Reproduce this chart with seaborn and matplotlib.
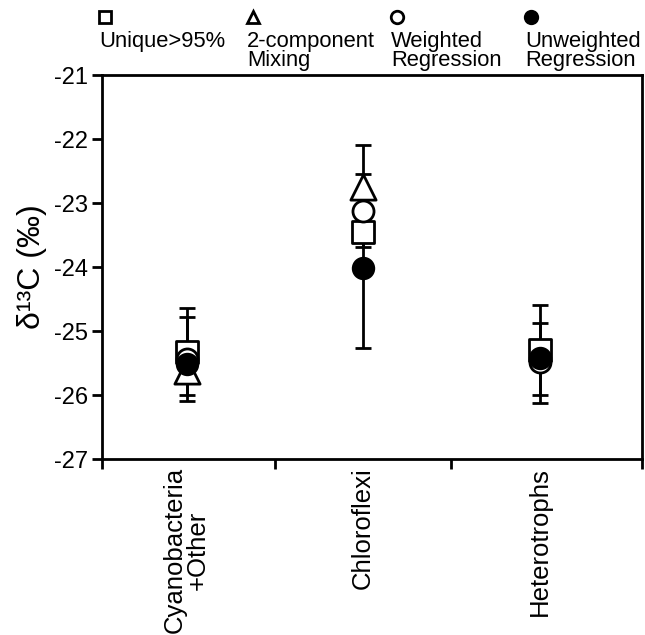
import numpy as np
import pandas as pd
import matplotlib
matplotlib.use("Agg")
import matplotlib.pyplot as plt
import seaborn as sns
from matplotlib.lines import Line2D

# categories (x) and the four estimation methods
groups = ['Cyanobacteria\n+Other', 'Chloroflexi', 'Heterotrophs']
methods = ['Unique>95%', '2-component\nMixing', 'Weighted\nRegression', 'Unweighted\nRegression']

# d13C values
unique95 = [-25.33, -23.45, -25.30]
mixing = [-25.63, -22.75, np.nan]
weighted = [-25.44, -23.13, -25.48]
unweighted = [-25.52, -24.02, -25.42]

# error bars (lower, upper) - only the visible ones
unique95_lo = [0.67, 0.0, 0.70]
unique95_hi = [0.69, 0.0, 0.71]
weighted_lo = [0.66, 0.56, 0.64]
weighted_hi = [0.66, 0.58, 0.60]
unweighted_lo = [0.0, 1.25, 0.0]
unweighted_hi = [0.0, 1.92, 0.0]

sns.set_theme(style="ticks")
plt.rcParams['font.family'] = ['Liberation Sans', 'DejaVu Sans']
for k in ['text.color', 'axes.labelcolor', 'xtick.color', 'ytick.color']:
    plt.rcParams[k] = 'black'

fig = plt.figure(figsize=(6.45, 6.35), dpi=100)
ax = fig.add_axes([102 / 645, 1 - 459 / 635, 540 / 645, 384 / 635])

x = np.arange(len(groups))

# error bars behind markers
for vals, lo, hi in [(unique95, unique95_lo, unique95_hi),
                     (weighted, weighted_lo, weighted_hi),
                     (unweighted, unweighted_lo, unweighted_hi)]:
    v = np.array(vals); l = np.array(lo); h = np.array(hi)
    m = (l > 0) | (h > 0)
    ax.errorbar(x[m], v[m], yerr=[l[m], h[m]], fmt='none', ecolor='black',
                elinewidth=2, capsize=6, capthick=2, zorder=1)

series = [
    (unique95, 's', 'white', 250),
    (weighted, 'o', 'white', 230),
    (mixing, '^', 'white', 330),
    (unweighted, 'o', 'black', 220),
]
for i, (vals, mk, fc, size) in enumerate(series):
    df = pd.DataFrame({'x': x, 'y': vals}).dropna()
    sns.scatterplot(data=df, x='x', y='y', marker=mk, s=size, color=fc,
                    edgecolor='black', linewidth=2, ax=ax, zorder=3 + i)

ax.set_xlim(-0.48, 2.58)
ax.set_ylim(-27, -21)
ax.set_yticks(np.arange(-27, -20, 1))
ax.set_yticklabels([str(v) for v in range(-27, -20)], fontsize=17)
ax.set_xticks(x)
ax.set_xticklabels(groups, rotation=90, fontsize=18.5, va='top', ha='center',
                   linespacing=0.95)
ax.set_xticks([-0.48, 0.5, 1.5, 2.58], minor=True)
ax.tick_params(axis='x', which='major', length=0, pad=6)
ax.tick_params(axis='x', which='minor', length=7, width=2, direction='out')
ax.tick_params(axis='y', length=7, width=2, direction='out', pad=3)
ax.set_xlabel('')
ax.set_ylabel('δ¹³C (‰)', fontsize=23, labelpad=5)
for sp in ax.spines.values():
    sp.set_linewidth(2)
    sp.set_color('black')
    sp.set_visible(True)

# legend row above the plot: marker over label
leg_x = [99, 247, 391, 525]
leg_m = [('s', 'white'), ('^', 'white'), ('o', 'white'), ('o', 'black')]
for lx, (mk, fc), lab in zip(leg_x, leg_m, methods):
    fig.add_artist(Line2D([(lx + 6) / 645], [1 - 17 / 635], marker=mk, markersize=9,
                          markerfacecolor=fc, markeredgecolor='black', markeredgewidth=2,
                          linestyle='none', transform=fig.transFigure))
    fig.text(lx / 645, 1 - 31 / 635, lab, fontsize=15.8, ha='left', va='top',
             linespacing=0.9)

fig.savefig('out.png', dpi=100)
